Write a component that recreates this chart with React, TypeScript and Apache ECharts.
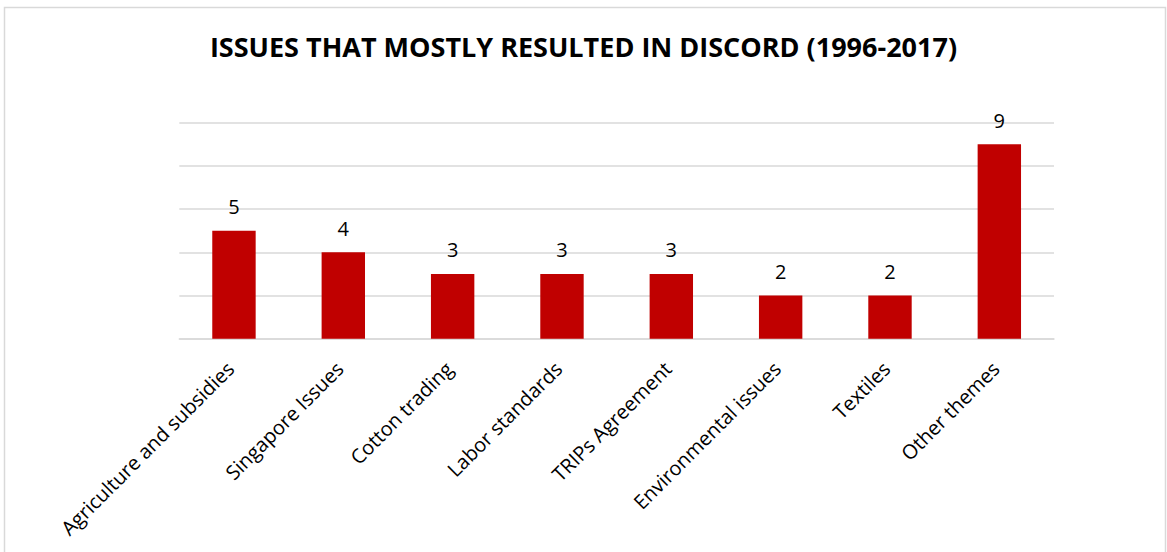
import React, { useEffect, useRef } from "react";
import * as echarts from "echarts";

const categories = [
  "Agriculture and subsidies",
  "Singapore Issues",
  "Cotton trading",
  "Labor standards",
  "TRIPs Agreement",
  "Environmental issues",
  "Textiles",
  "Other themes",
];
const counts = [5, 4, 3, 3, 3, 2, 2, 9];
const titleText = "ISSUES THAT MOSTLY RESULTED IN DISCORD (1996-2017)";

const FONT = "'Open Sans', 'Liberation Sans', sans-serif";

export default function App() {
  const ref = useRef<HTMLDivElement>(null);

  useEffect(() => {
    if (!ref.current) return;
    const chart = echarts.init(ref.current, undefined, { renderer: "svg" });
    chart.setOption({
      animation: false,
      backgroundColor: "#ffffff",
      graphic: [
        {
          type: "rect",
          shape: { x: 4.5, y: 7.5, width: 1161, height: 560 },
          style: { fill: "none", stroke: "#d9d9d9", lineWidth: 1.5 },
          silent: true,
        },
      ],
      title: {
        text: titleText,
        left: "center",
        top: 28,
        textStyle: {
          fontFamily: FONT,
          fontWeight: "bold",
          fontSize: 27,
          color: "#000000",
        },
      },
      grid: { left: 179.3, right: 113, top: 122.7, bottom: 213.3 },
      xAxis: {
        type: "category",
        data: categories,
        axisLine: { lineStyle: { color: "#d9d9d9", width: 1.5 } },
        axisTick: { show: false },
        axisLabel: {
          rotate: 45,
          interval: 0,
          margin: 23,
          padding: [0, 5, 0, 0],
          fontFamily: FONT,
          fontSize: 20,
          color: "#000000",
        },
      },
      yAxis: {
        type: "value",
        min: 0,
        max: 10,
        interval: 2,
        axisLabel: { show: false },
        axisLine: { show: false },
        axisTick: { show: false },
        splitLine: { lineStyle: { color: "#d9d9d9", width: 1.5 } },
      },
      series: [
        {
          type: "bar",
          data: counts,
          barWidth: 43.4,
          itemStyle: { color: "#c00000" },
          label: {
            show: true,
            position: "top",
            distance: 14,
            fontFamily: FONT,
            fontSize: 20,
            color: "#000000",
          },
        },
      ],
    });
    return () => chart.dispose();
  }, []);

  return (
    <div
      ref={ref}
      style={{ position: "fixed", left: 0, top: 0, width: 1167, height: 552 }}
    />
  );
}
